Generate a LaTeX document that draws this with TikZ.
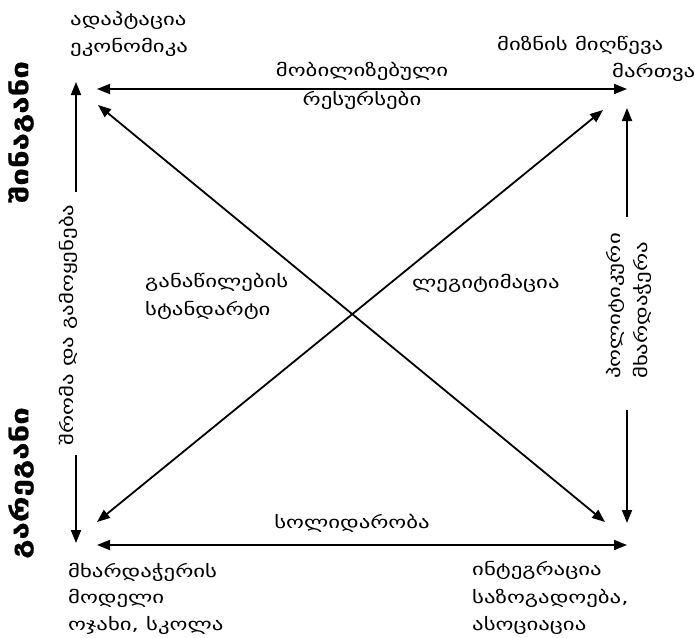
\documentclass[tikz,border=0pt]{standalone}
\usepackage{fontspec}
\setmainfont{DejaVu Sans}
\newfontfamily\geofont[FakeStretch=1.34]{DejaVu Sans}
\newfontfamily\geobold[FakeStretch=1.3,FakeBold=0.8]{DejaVu Sans Bold}
\usetikzlibrary{arrows.meta}
\begin{document}
\begin{tikzpicture}[x=1pt,y=-1pt,
  arr/.style={-{Triangle[length=13pt,width=10pt]}, line width=1.8pt},
  darr/.style={{Triangle[length=13pt,width=10pt]}-{Triangle[length=13pt,width=10pt]}, line width=1.8pt},
  lbl/.style={font=\geofont\fontsize{17}{27}\selectfont, inner sep=0pt, align=left},
  big/.style={font=\geobold\fontsize{24}{28}\selectfont, inner sep=0pt, rotate=90}]
\useasboundingbox (0,0) rectangle (695,637);
% corner coordinates
\coordinate (TL) at (97,89);
\coordinate (TR) at (627,89);
\coordinate (BL) at (97,545);
\coordinate (BR) at (627,545);
\coordinate (D1a) at (98,105);
\coordinate (D1b) at (605,522);
\coordinate (D2a) at (97,522);
\coordinate (D2b) at (603,110);
\coordinate (LVt) at (76,82);
\coordinate (LVa) at (76,192);
\coordinate (LVb) at (76,455);
\coordinate (LVd) at (76,543);
\coordinate (RVt) at (627,108);
\coordinate (RVa) at (627,217);
\coordinate (RVb) at (627,410);
\coordinate (RVd) at (627,523);
% arrows
\draw[darr] (TL) -- (TR);
\draw[darr] (BL) -- (BR);
\draw[darr] (D1a) -- (D1b);
\draw[darr] (D2a) -- (D2b);
\draw[arr] (LVa) -- (LVt);
\draw[arr] (LVb) -- (LVd);
\draw[arr] (RVa) -- (RVt);
\draw[arr] (RVb) -- (RVd);
% texts
\node[lbl, anchor=base west] (tl1) at (70,25) {ადაპტაცია};
\node[lbl, anchor=base west] (tl2) at (70,52) {ეკონომიკა};
\node[lbl, anchor=base west] (tr1) at (497,50) {მიზნის მიღწევა};
\node[lbl, anchor=base west] (tr2) at (612,77) {მართვა};
\node[lbl, anchor=base] (top1) at (362,76) {მობილიზებული};
\node[lbl, anchor=base] (top2) at (362,105) {რესურსები};
\node[lbl, anchor=base] (bot1) at (352,528) {სოლიდარობა};
\node[lbl, anchor=base west] (bl1) at (68,577) {მხარდაჭერის};
\node[lbl, anchor=base west] (bl2) at (68,603) {მოდელი};
\node[lbl, anchor=base west] (bl3) at (68,630) {ოჯახი, სკოლა};
\node[lbl, anchor=base west] (br1) at (472,575) {ინტეგრაცია};
\node[lbl, anchor=base west] (br2) at (472,603) {საზოგადოება,};
\node[lbl, anchor=base west] (br3) at (472,630) {ასოციაცია};
\node[lbl, anchor=base west] (c1) at (145,287) {განაწილების};
\node[lbl, anchor=base west] (c2) at (145,315) {სტანდარტი};
\node[lbl, anchor=base west] (c3) at (412,288) {ლეგიტიმაცია};
\node[lbl, rotate=90] (lv) at (68,325) {შრომა და გამოყენება};
\node[lbl, rotate=90] (rv) at (629,306) {პოლიტიკური\\მხარდაჭერა};
\node[big] (in) at (21,132) {შინაგანი};
\node[big] (out) at (21,483) {გარეგანი};
\end{tikzpicture}
\end{document}
